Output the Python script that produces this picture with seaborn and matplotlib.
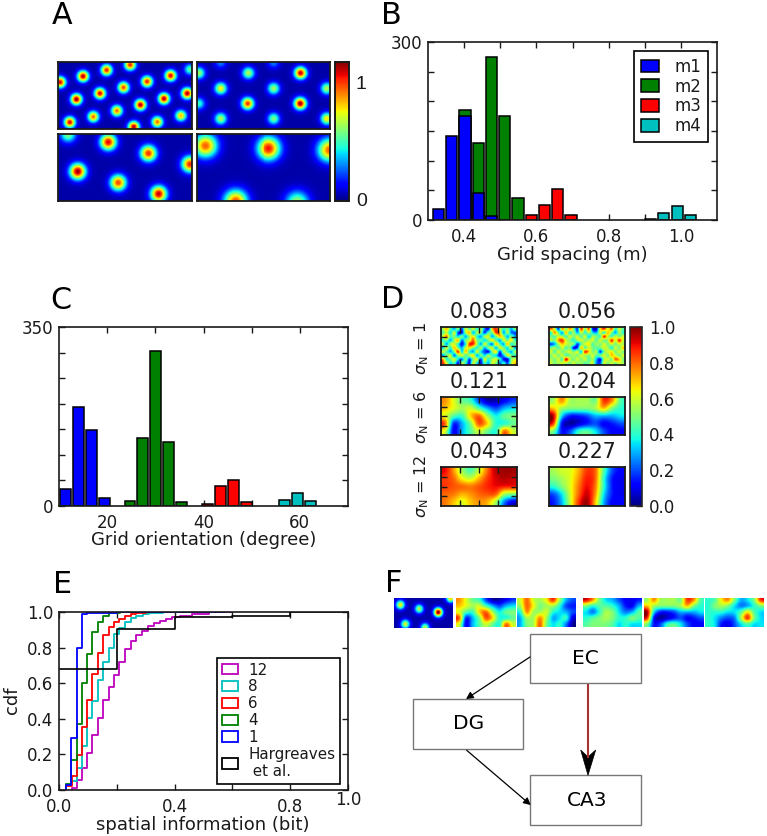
import numpy as np
import matplotlib
matplotlib.use("Agg")
import matplotlib.pyplot as plt
from matplotlib.patches import Patch, Rectangle, Polygon
from matplotlib.cm import ScalarMappable
from matplotlib.colors import Normalize
import seaborn as sns

# ---------- data ----------
# panel A: grid-field peaks (x, y, amplitude), one list per map
a_tl_peaks = [(250,228,1.1),(321,209,1.0),(392,193,1.0),(181,246,1.05),(443,244,1.0),(514,226,1.05),
              (572,207,.5),(372,262,.95),(301,280,1.05),(230,298,1.12),(564,280,1.1),(494,296,1.1),
              (423,315,1.1),(352,333,.9),(281,351,.9),(210,368,1.05),(545,348,.8),(474,367,.9),(403,382,1.1)]
a_tr_peaks = [(743,218,.62),(903,218,1.08),(660,265,.72),(822,265,.6),(982,265,.62),(741,311,.98),
              (902,311,1.12),(660,357,.62),(822,357,.55),(982,357,.75),(594,218,.6),(594,311,.45),
              (660,186,.25),(822,186,.25)]
a_bl_peaks = [(326,426,1.05),(447,460,.98),(234,515,1.12),(356,549,.95),(478,583,1.08),(572,493,1.0),(205,403,.55)]
a_br_peaks = [(614,437,.92),(806,445,1.02),(990,450,.92),(705,606,.95),(893,610,.62)]
f_first_peaks = [(30,30,.72),(87,42,.62),(145,52,1.15),(183,10,.8),(45,87,.68),(105,97,.62)]

# panel B: grid spacing counts
spacing_m1_bins = [0,1,2,3,4];  spacing_m1 = [19,141,175,45,6]
spacing_m2_bins = [2,3,4,5,6];  spacing_m2 = [185,130,274,175,37]
spacing_m3_bins = [7,8,9,10];   spacing_m3 = [8,25,53,9]
spacing_m4_bins = [16,17,18,19]; spacing_m4 = [2,11,23,9]

# panel C: grid orientation counts
orient_m1_bins = [0,1,2,3];     orient_m1 = [34,193,148,15]
orient_m2_bins = [5,6,7,8,9];   orient_m2 = [10,132,304,126,7]
orient_m3_bins = [11,12,13,14]; orient_m3 = [3,39,50,7]
orient_m4_bins = [17,18,19];    orient_m4 = [12,26,10]

# panel D: rate maps
d_noise_left = [
 [.55,.7,.45,.3,.5,.2,.6,.45,.6,.4,.55,.25,.15,.7,.85,.6,.4,.5,.3,.5],
 [.45,.6,.35,.6,.2,.15,.55,.7,.3,.55,.5,.2,.45,.5,.85,.7,.3,.55,.25,.2],
 [.6,.75,.45,.5,.35,.5,.3,.55,.65,.4,.3,.55,.6,.3,.5,.7,.55,.3,.5,.3],
 [.4,.5,.3,.55,.7,.25,.5,.6,.8,.5,.45,.35,.5,.65,.45,.3,.6,.5,.65,.4],
 [.55,.3,.55,.6,.4,.15,.4,.85,.85,.55,.3,.6,.4,.25,.7,.45,.3,.7,.4,.5],
 [.35,.6,.4,.7,.5,.3,.6,.65,.5,.4,.55,.3,.5,.6,.3,.6,.5,.35,.6,.3],
 [.6,.45,.3,.5,.85,.35,.7,.4,.3,.6,.35,.2,.15,.5,.65,.2,.55,.45,.3,.55],
 [.3,.5,.6,.25,.5,.6,.45,.55,.65,.3,.5,.35,.55,.4,.35,.15,.3,.6,.5,.4],
 [.75,.4,.5,.6,.35,.25,.5,.2,.5,.6,.2,.6,.4,.55,.6,.4,.15,.1,.5,.6],
 [.85,.6,.35,.45,.15,.55,.4,.15,.6,.35,.15,.45,.3,.6,.5,.25,.4,.2,.55,.7]]
d_noise_right = [
 [.8,.6,.2,.75,.5,.75,.5,.2,.85,.5,.8,.15,.1,.65,.85,.6,.8,.4,.6,.45],
 [.4,.75,.5,.3,.7,.4,.55,.3,.6,.4,.55,.35,.3,.6,.4,.7,.5,.3,.55,.4],
 [.5,.45,.6,.55,.45,.6,.5,.6,.45,.6,.35,.55,.5,.45,.85,.6,.45,.6,.5,.6],
 [.55,.5,.75,.85,.6,.5,.4,.55,.6,.5,.55,.6,.45,.6,.5,.55,.85,.6,.85,.6],
 [.2,.3,.55,.7,.6,.55,.5,.2,.45,.6,.65,.45,.55,.5,.6,.5,.6,.5,.6,.55],
 [.5,.55,.45,.6,.45,.5,.15,.2,.7,.45,.6,.5,.45,.5,.6,.55,.4,.6,.5,.7],
 [.6,.45,.6,.5,.55,.6,.5,.6,.35,.85,.7,.5,.55,.2,.5,.6,.65,.5,.6,.5],
 [.5,.6,.5,.6,.45,.5,.55,.5,.6,.55,.5,.6,.45,.5,.6,.5,.7,.6,.5,.6],
 [.55,.5,.6,.45,.9,.6,.5,.6,.5,.6,.45,.55,.3,.15,.55,.6,.5,.8,.7,.5],
 [.6,.5,.55,.6,.55,.5,.6,.5,.55,.45,.5,.6,.25,.2,.6,.5,.6,.5,.6,.55]]
d_six_left = [[.75,.62,.48,.42,.2,.05,.05,.12,.18],[.7,.62,.55,.6,.45,.3,.2,.3,.35],
              [.62,.45,.42,.68,.8,.55,.37,.47,.5],[.8,.18,.3,.5,.82,.68,.4,.4,.47],[.6,.12,.3,.45,.6,.48,.4,.78,.6]]
d_six_right = [[.55,.75,.55,.55,.55,.5,.85,.75,.45],[.7,.55,.5,.5,.5,.55,.7,.5,.4],
               [.95,.35,.15,.15,.2,.3,.3,.3,.35],[.85,.15,.03,.08,.15,.2,.12,.15,.2],[.5,.15,.2,.4,.45,.35,.2,.12,.12]]
d_twelve_left = [[.9,.75,.55,.45,.6,.8,.95,.97,.97],[.85,.8,.65,.6,.72,.85,.92,.95,.93],
                 [.85,.82,.8,.78,.82,.87,.9,.88,.88],[.8,.78,.72,.75,.8,.82,.8,.55,.5],[.78,.7,.62,.7,.75,.72,.55,.25,.1]]
d_twelve_right = [[.55,.6,.62,.72,.85,.8,.45,.2,.12],[.5,.55,.62,.75,.88,.8,.4,.15,.1],
                  [.4,.5,.62,.78,.9,.78,.4,.15,.1],[.2,.35,.6,.8,.93,.75,.35,.15,.1],[.15,.3,.58,.85,.97,.7,.3,.12,.12]]
d_titles = ["0.083","0.056","0.121","0.204","0.043","0.227"]
d_rows = [r"$\sigma_{\mathrm{N}}$ = 1", r"$\sigma_{\mathrm{N}}$ = 6", r"$\sigma_{\mathrm{N}}$ = 12"]

# panel E: cumulative distributions (bin start, cdf after it)
cdf_12_x = [.044,.061,.08,.098,.115,.134,.153,.173,.19,.208,.228,.248,.268,.288,.308,.328,.35,.37,.39,.42,.46,.52,.6]
cdf_12_y = [.01,.055,.125,.21,.31,.405,.505,.58,.645,.72,.79,.835,.87,.895,.92,.94,.95,.96,.97,.98,.99,1,1]
cdf_8_x = [.024,.044,.061,.08,.098,.115,.134,.153,.173,.19,.208,.228,.248,.268,.29,.31,.33,.36,.45]
cdf_8_y = [.035,.05,.125,.245,.405,.5,.62,.72,.8,.875,.91,.945,.965,.98,.988,.993,.996,1,1]
cdf_6_x = [.024,.044,.061,.08,.098,.115,.134,.153,.173,.19,.208,.228,.248,.268,.3,.4]
cdf_6_y = [.02,.08,.198,.355,.505,.653,.77,.868,.918,.945,.96,.975,.99,.995,1,1]
cdf_4_x = [.024,.043,.061,.0785,.098,.115,.134,.153,.173,.192,.21,.3]
cdf_4_y = [.035,.166,.372,.6,.766,.888,.944,.979,.992,.996,1,1]
cdf_1_x = [.024,.0415,.061,.08,.098,.13,.2,.576]
cdf_1_y = [.03,.293,.796,.987,.994,.997,.999,1]
hargreaves_x = [0,.2,.4,.6,.8,1.0]
hargreaves_y = [.68,.905,.97,.98,1.0,1.0]
cdf_labels = ["12","8","6","4","1","Hargreaves\n et al."]

# panel F: input maps
f_second = d_six_left
f_third = [[.6,.8,.6,.55,.65,.85,.55,.3,.2],[.55,.8,.65,.5,.55,.55,.4,.2,.15],[.4,.75,.55,.55,.6,.4,.35,.3,.2],
           [.3,.55,.55,.75,.55,.3,.35,.4,.1],[.3,.5,.55,.8,.5,.35,.4,.25,.03]]
f_fourth = [[.9,.75,.5,.35,.3,.2,.12,.1,.15],[.5,.4,.45,.45,.4,.3,.15,.12,.3],[.35,.25,.4,.55,.5,.35,.25,.3,.45],
            [.4,.45,.5,.55,.5,.4,.4,.5,.45],[.45,.5,.5,.5,.45,.35,.4,.35,.35]]
f_fifth = d_six_right
f_sixth = [[.4,.45,.65,.75,.5,.3,.35,.5,.85],[.4,.5,.55,.5,.35,.25,.3,.4,.5],[.4,.4,.4,.35,.35,.45,.65,.45,.35],
           [.4,.35,.25,.2,.25,.55,.85,.5,.35],[.4,.35,.15,.1,.2,.35,.45,.35,.35]]
module_labels = ["m1","m2","m3","m4"]

# ---------- style ----------
sns.set_style("ticks")
plt.rcParams.update({"font.family": ["DejaVu Sans"], "mathtext.fontset": "dejavusans",
                     "axes.linewidth": 1.2, "text.color": "#1a1a1a", "axes.labelcolor": "#1a1a1a",
                     "xtick.color": "#1a1a1a", "ytick.color": "#1a1a1a"})
W, H = 767, 836
fig = plt.figure(figsize=(W/100, H/100), dpi=100, facecolor="white")
BLUE, GREEN, RED, CYAN, MAG = "#0000ff", "#008000", "#ff0000", "#00bfbf", "#bf00bf"
TICK = 12; LABEL = 13

def ax_px(l, t, r, b):
    return fig.add_axes([l/W, 1-b/H, (r-l)/W, (b-t)/H])

def fig_text(x, y, s, **kw):
    return fig.text(x/W, 1-y/H, s, **kw)

def frame(ax, lw=1.2, color="#1a1a1a"):
    for s in ax.spines.values():
        s.set_visible(True); s.set_linewidth(lw); s.set_color(color)

def field(peaks, x0, x1, y0, y1, sigma, nx, ny, base=.03):
    X, Y = np.meshgrid(np.linspace(x0, x1, nx), np.linspace(y0, y1, ny))
    Z = np.full(X.shape, base, dtype=float)
    for px, py, amp in peaks:
        Z += amp*np.exp(-((X-px)**2+(Y-py)**2)/(2*sigma**2))
    return Z

# ---------- A ----------
AV = (-.015, 1.175)
a_specs = [((58,62,192,129), a_tl_peaks, (176,577,186,387), 11.5),
           ((197,62,330,129), a_tr_peaks, (590,990,186,387), 12.5),
           ((58,134,192,201), a_bl_peaks, (176,577,403,603), 16.5),
           ((197,134,330,201), a_br_peaks, (590,990,403,603), 24)]
cax = ax_px(335, 62, 349, 201)
for i, (box, peaks, rng, sig) in enumerate(a_specs):
    ax = ax_px(*box)
    Z = field(peaks, rng[0], rng[1], rng[2], rng[3], sig, 134, 67)
    sns.heatmap(Z, cmap="jet", vmin=AV[0], vmax=AV[1], ax=ax, xticklabels=False, yticklabels=False,
                cbar=i == 0, cbar_ax=cax if i == 0 else None,
                cbar_kws={"ticks": [0, 1]} if i == 0 else None)
    frame(ax, 1.3)
cax.tick_params(direction="in", length=4, width=1, labelsize=14, pad=5, color="#222222")
for t in cax.get_yticklabels():
    t.set_family("Liberation Sans")
frame(cax, 1.2)

# ---------- bar helper ----------
def bars(ax, start, step, bins, counts, color):
    centers = start + (np.array(bins) + .5)*step
    sns.barplot(x=centers, y=counts, native_scale=True, orient="x", width=.84, color=color, saturation=1,
                edgecolor="black", linewidth=1.1, errorbar=None, ax=ax)

def hist_axes(ax, xlim, xticks, xlabels, ylim, yticks, ylabels, xlabel, lx, ly, box):
    ax.set_xlim(*xlim); ax.set_ylim(*ylim)
    ax.set_xticks(xticks); ax.set_xticklabels(xlabels)
    ax.set_yticks(yticks); ax.set_yticklabels(ylabels)
    ax.tick_params(direction="in", top=True, right=True, length=4, width=1, labelsize=TICK)
    ax.tick_params(axis="x", pad=6); ax.tick_params(axis="y", pad=4)
    ax.set_ylabel("")
    ax.set_xlabel(xlabel, fontsize=LABEL, va="center")
    l, t, r, b = box
    ax.xaxis.set_label_coords((lx-l)/(r-l), (b-ly)/(b-t))
    frame(ax)

# ---------- B ----------
box = (428, 42, 717, 220)
ax = ax_px(*box)
bars(ax, .3106, .0367, spacing_m2_bins, spacing_m2, GREEN)
bars(ax, .3106, .0367, spacing_m1_bins, spacing_m1, BLUE)
bars(ax, .3106, .0367, spacing_m3_bins, spacing_m3, RED)
bars(ax, .3106, .0367, spacing_m4_bins, spacing_m4, CYAN)
hist_axes(ax, (.3, 1.1), np.arange(.4, 1.05, .1).round(1), ["0.4","","0.6","","0.8","","1.0"],
          (0, 300), np.arange(0, 301, 50), ["0","","","","","","300"], "Grid spacing (m)", 572.7, 255, box)
handles = [Patch(facecolor=c, edgecolor="black", linewidth=1.1) for c in (BLUE, GREEN, RED, CYAN)]
leg = ax.legend(handles, module_labels, loc="upper left", bbox_to_anchor=(634/W, 1-51/H), bbox_transform=fig.transFigure,
                borderaxespad=0, fontsize=12, fancybox=False, framealpha=1, edgecolor="black",
                handlelength=1.1, handleheight=.8, handletextpad=.95, labelspacing=.11, borderpad=.4)
leg.get_frame().set_linewidth(1.2)

# ---------- C ----------
box = (59, 327, 348, 506)
ax = ax_px(*box)
bars(ax, 10.0, 2.68, orient_m1_bins, orient_m1, BLUE)
bars(ax, 10.0, 2.68, orient_m2_bins, orient_m2, GREEN)
bars(ax, 10.0, 2.68, orient_m3_bins, orient_m3, RED)
bars(ax, 10.0, 2.68, orient_m4_bins, orient_m4, CYAN)
hist_axes(ax, (10, 70), [20,30,40,50,60], ["20","","40","","60"],
          (0, 350), np.arange(0, 351, 50), ["0","","","","","","","350"], "Grid orientation (degree)", 203.7, 540, box)

# ---------- D ----------
d_boxes = [(441,327,517,365),(549,327,625,365),(441,397,517,435),(549,397,625,435),(441,467,517,506),(549,467,625,506)]
d_maps = [d_noise_left,d_noise_right,d_six_left,d_six_right,d_twelve_left,d_twelve_right]
for i, (bx, m) in enumerate(zip(d_boxes, d_maps)):
    ax = ax_px(*bx)
    ax.imshow(m, cmap="jet", vmin=0, vmax=1, aspect="auto", interpolation="catrom", extent=(0,1,0,1))
    if i % 2 == 0:
        ax.set_xticks([.25,.5,.75]); ax.set_yticks([.25,.5,.75])
        ax.tick_params(direction="in", top=True, right=True, length=4, width=1,
                       labelbottom=False, labelleft=False)
    else:
        ax.set_xticks([]); ax.set_yticks([])
    frame(ax, 1.3)
    fig_text((bx[0]+bx[2])/2, bx[1]-15.5, d_titles[i], ha="center", va="center", fontsize=14.8)
for y, s in zip((348, 416.7, 486.7), d_rows):
    fig_text(421.7, y, s, rotation=90, ha="center", va="center", fontsize=11.5)
cax = ax_px(630, 327, 642, 506)
cb = fig.colorbar(ScalarMappable(Normalize(0, 1), "jet"), cax=cax, ticks=[0,.2,.4,.6,.8,1])
cb.ax.set_yticklabels(["0.0","0.2","0.4","0.6","0.8","1.0"])
cax.tick_params(direction="in", length=4, width=1, labelsize=TICK, pad=5)
cb.outline.set_linewidth(1.2)

# ---------- E ----------
box = (59, 612, 348, 790)
ax = ax_px(*box)
series = [(cdf_12_x,cdf_12_y,MAG),(cdf_8_x,cdf_8_y,CYAN),(cdf_6_x,cdf_6_y,RED),(cdf_4_x,cdf_4_y,GREEN),(cdf_1_x,cdf_1_y,BLUE)]
for xs, ys, c in series:
    sns.lineplot(x=[xs[0]]+xs, y=[0]+ys, drawstyle="steps-post", estimator=None, sort=False, color=c, lw=1.3, ax=ax)
sns.lineplot(x=hargreaves_x, y=hargreaves_y, drawstyle="steps-post", estimator=None, sort=False, color="black", lw=1.2, ax=ax)
hist_axes(ax, (0, 1), [0,.2,.4,.6,.8,1], ["0.0","","0.4","","0.8",""],
          (0, 1), [0,.2,.4,.6,.8,1], ["0.0","0.2","0.4","0.6","0.8","1.0"], "spatial information (bit)", 203, 825, box)
fig_text(348, 800, "1.0", ha="center", va="center", fontsize=TICK)
fig_text(12, 700.7, "cdf", rotation=90, ha="center", va="center", fontsize=LABEL)
handles = [Patch(facecolor="none", edgecolor=c, linewidth=1.3) for c in (MAG, CYAN, RED, GREEN, BLUE, "black")]
leg = ax.legend(handles, cdf_labels, loc="upper left", bbox_to_anchor=(217/W, 1-658/H), bbox_transform=fig.transFigure,
                borderaxespad=0, fontsize=10.9, fancybox=False, framealpha=1, edgecolor="black",
                handlelength=1.06, handleheight=.66, handletextpad=.7, labelspacing=.12, borderpad=.3)
leg.get_frame().set_linewidth(1.2)

# ---------- F ----------
f_cols = [(394,453),(455.5,514.5),(516.5,575.5),(582.5,641.5),(643.5,703),(705,764)]
ax = ax_px(f_cols[0][0], 598, f_cols[0][1], 627.5)
sns.heatmap(field(f_first_peaks, 12, 190, 10, 97, 9, 118, 60), cmap="jet", vmin=AV[0], vmax=AV[1],
            cbar=False, xticklabels=False, yticklabels=False, ax=ax)
for (l, r), m in zip(f_cols[1:], (f_second, f_third, f_fourth, f_fifth, f_sixth)):
    ax = ax_px(l, 598, r, 627.5)
    ax.imshow(m, cmap="jet", vmin=0, vmax=1, aspect="auto", interpolation="catrom")
    ax.axis("off")

# ---------- overlay: schematic and panel letters ----------
ov = fig.add_axes([0, 0, 1, 1], zorder=5)
ov.set_xlim(0, W); ov.set_ylim(H, 0); ov.axis("off"); ov.patch.set_alpha(0)
for (l, t, r, b), name, tx, ty in [((530.3,633.7,640.7,683.3),"EC",585.7,658.3),
                                   ((413.3,699.3,523.3,748.7),"DG",468.3,723.3),
                                   ((530.3,775.3,640.7,825),"CA3",586.7,800)]:
    ov.add_patch(Rectangle((l, t), r-l, b-t, fill=False, edgecolor="#777777", lw=1))
    ov.text(tx, ty, name, ha="center", va="center", fontsize=14.5, color="black")
arrow = dict(arrowstyle="-|>,head_width=.22,head_length=.42", color="black", lw=.9, shrinkA=0, shrinkB=0)
ov.annotate("", xy=(466, 699), xytext=(530, 657), arrowprops=arrow)
ov.annotate("", xy=(530.7, 805), xytext=(466.7, 750.3), arrowprops=arrow)
ov.plot([588, 588], [684, 758], color="#a83232", lw=1.5, solid_capstyle="butt")
ov.add_patch(Polygon([(588,775.3),(580.7,750),(588,757),(595.7,750)], closed=True, facecolor="black", edgecolor="black", lw=.5))
for s, x, y in [("A",51.5,24.3),("B",381,24.3),("C",50.5,309),("D",381.5,308),("E",52.5,593),("F",385.5,592)]:
    ov.text(x, y, s, ha="left", va="baseline", fontsize=21.7, color="black")

fig.savefig("out.png", dpi=100, facecolor="white")
